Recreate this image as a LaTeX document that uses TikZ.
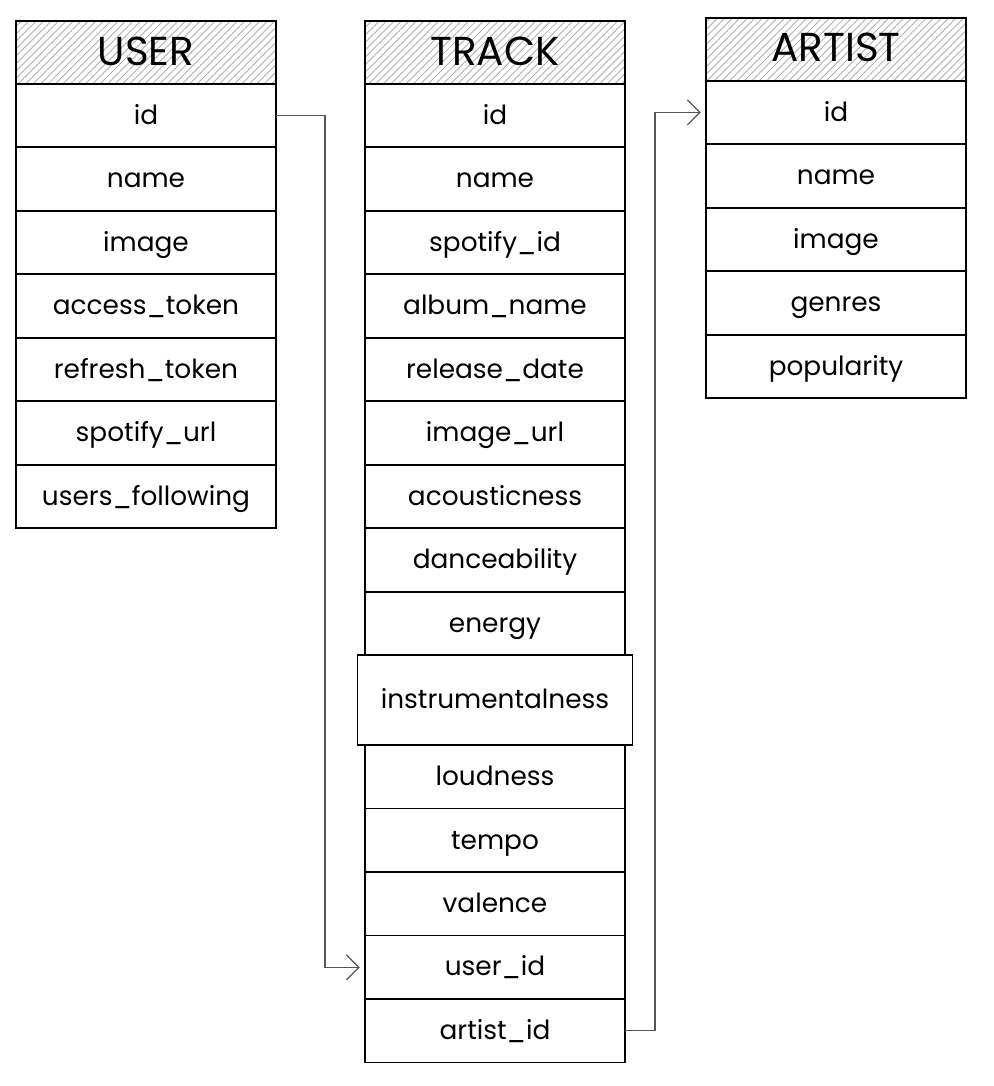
\documentclass[tikz,border=0pt]{standalone}
\usepackage{fontspec}
\setmainfont{Poppins}
\usetikzlibrary{positioning,arrows.meta,matrix,patterns.meta}
\definecolor{hatchgray}{RGB}{175,175,175}
\definecolor{linkgray}{RGB}{85,85,85}
\tikzset{
  table/.style={matrix of nodes, inner sep=0pt, row sep=-1pt, column sep=0pt, anchor=north,
                nodes={draw=black, line width=1pt, outer sep=0pt, anchor=center,
                       minimum width=5.2cm, minimum height=1.27cm,
                       text height=1.8ex, text depth=0pt,
                       font=\fontsize{15}{18}\selectfont}},
  head/.style={pattern={Lines[angle=45,distance=3pt,line width=0.5pt]}, pattern color=hatchgray,
               minimum height=1.25cm, text height=2.6ex, text depth=0pt,
               font=\fontsize{23}{26}\selectfont},
  wide/.style={minimum width=5.5cm, minimum height=1.8cm},
  link/.style={-{Straight Barb[length=2.5mm]}, line width=0.7pt, linkgray, shorten >=3pt}
}
\begin{document}
\begin{tikzpicture}[x=0.02cm, y=-0.02cm]
\useasboundingbox (0,0) rectangle (994,1086);
\matrix (user) [table, at={(146,20)}] {
  |[head]| USER \\
  id \\
  name \\
  image \\
  access\_token \\
  refresh\_token \\
  spotify\_url \\
  users\_following \\
};
\matrix (track) [table, at={(495,20)}] {
  |[head]| TRACK \\
  id \\
  name \\
  spotify\_id \\
  album\_name \\
  release\_date \\
  image\_url \\
  acousticness \\
  danceability \\
  energy \\
  |[wide]| instrumentalness \\
  loudness \\
  tempo \\
  valence \\
  user\_id \\
  artist\_id \\
};
\matrix (artist) [table, at={(836,17)}] {
  |[head]| ARTIST \\
  id \\
  name \\
  image \\
  genres \\
  popularity \\
};
\draw[link] (user-2-1.east) -- ++(49,0) |- (track-15-1.west);
\draw[link] (track-16-1.east) -- ++(30,0) |- (artist-2-1.west);
\end{tikzpicture}
\end{document}
